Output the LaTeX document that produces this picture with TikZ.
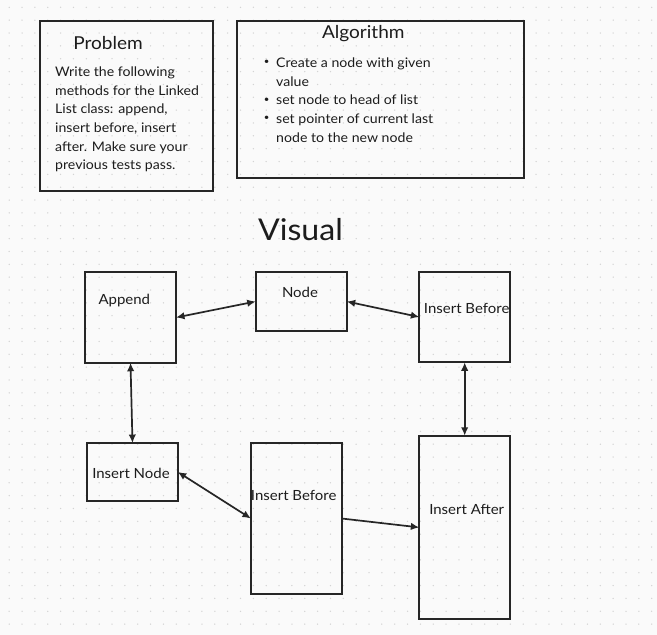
\documentclass[tikz,border=0pt]{standalone}
\usepackage{fontspec}
\setmainfont{Lato}[FakeStretch=1.07]
\usetikzlibrary{arrows.meta}
\definecolor{bg}{RGB}{250,250,250}
\definecolor{dotc}{RGB}{212,212,212}
\definecolor{ln}{RGB}{38,38,38}
\definecolor{tx}{RGB}{28,28,28}
\begin{document}
\begin{tikzpicture}[x=1pt,y=-1pt,
  box/.style={draw=ln,line width=2pt,inner sep=0pt,outer sep=0pt,fill=none},
  lbl/.style={text=tx,inner sep=0pt,font=\fontsize{14}{16}\selectfont},
  ttl/.style={text=tx,inner sep=0pt,font=\fontsize{17.8}{20}\selectfont},
  body/.style={text=tx,inner sep=0pt,align=left,font=\fontsize{13.2}{18.7}\selectfont},
  dot/.style={text=tx,inner sep=0pt,font=\fontsize{9}{10}\selectfont},
  conn/.style={draw=ln,line width=1.7pt},
  tip/.style={-{Latex[length=8.5pt,width=7.5pt]}},
  both/.style={{Latex[length=8.5pt,width=7.5pt]}-{Latex[length=8.5pt,width=7.5pt]}}]
\fill[bg] (0,0) rectangle (657,635);
\useasboundingbox (0,0) rectangle (657,635);
\foreach \i in {0,...,50}
  \foreach \j in {0,...,48}
    \fill[dotc] ({9.2+12.85*\i},{7.3+12.85*\j}) circle[radius=0.75pt];
% top boxes
\node[box,minimum width=173pt,minimum height=170pt] (prob) at (126.3,106) {};
\node[ttl] (probT) at (108,43) {Problem};
\node[body,anchor=west] (probB) at (55,119.4) {Write the following\\methods for the Linked\\List class: append,\\insert before, insert\\after. Make sure your\\previous tests pass.};
\node[box,minimum width=287pt,minimum height=157pt] (algo) at (380.3,99.3) {};
\node[ttl] (algoT) at (363.3,33.3) {Algorithm};
\node[dot] (bul1) at (266.7,62.7) {•};
\node[dot] (bul2) at (266.7,100) {•};
\node[dot] (bul3) at (266.7,118.7) {•};
\node[body,anchor=west] (algoB) at (276,100) {Create a node with given\\value\\set node to head of list\\set pointer of current last\\node to the new node};
\node[text=tx,inner sep=0pt,font=\fontsize{30}{32}\selectfont] (vis) at (300.5,230) {Visual};
% diagram boxes
\node[box,minimum width=91pt,minimum height=90.5pt] (app) at (130.5,317.5) {};
\node[lbl] (appT) at (124.3,300.3) {Append};
\node[box,minimum width=91pt,minimum height=59pt] (nd) at (301.2,301.5) {};
\node[lbl] (ndT) at (300,292.3) {Node};
\node[box,minimum width=90.7pt,minimum height=90.6pt] (ib1) at (464.7,317) {};
\node[lbl] (ib1T) at (466.7,308.7) {Insert Before};
\node[box,minimum width=90.4pt,minimum height=57.7pt] (in) at (132.5,471.9) {};
\node[lbl] (inT) at (131,473.3) {Insert Node};
\node[box,minimum width=90.7pt,minimum height=151pt] (ib2) at (296.3,518.5) {};
\node[lbl] (ib2T) at (293.7,495.3) {Insert Before};
\node[box,minimum width=90.7pt,minimum height=183.3pt] (ia) at (464.7,527.4) {};
\node[lbl] (iaT) at (466.7,509.3) {Insert After};
% connectors
\draw[conn,both] (app.east) -- (nd.west);
\draw[conn,both] (nd.east) -- (ib1.west);
\draw[conn,both] (app.south) -- (in.north);
\draw[conn,both] (in.east) -- (ib2.west);
\draw[conn,tip] (ib2.east) -- (ia.west);
\draw[conn,both] (ib1.south) -- (ia.north);
\end{tikzpicture}
\end{document}
